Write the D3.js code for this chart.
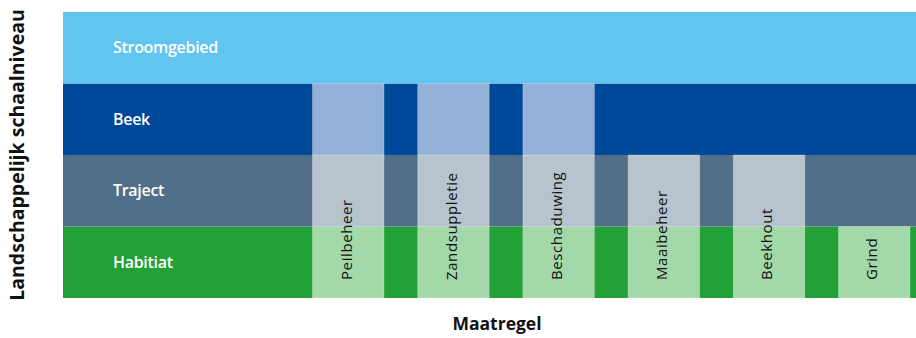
<!DOCTYPE html>
<html>
<head>
<meta charset="utf-8">
<script src="https://cdn.jsdelivr.net/npm/d3@7.9.0/dist/d3.min.js"></script>
<style>
  html, body { margin: 0; padding: 0; background: #fff; }
  svg { display: block; font-family: "Open Sans", sans-serif; }
</style>
</head>
<body>
<svg id="chart" width="916" height="338"></svg>
<script>
// levels from bottom to top
const levels = ['Habitiat', 'Traject', 'Beek', 'Stroomgebied'];
const levelColors = ['#22a137', '#516f88', '#00489a', '#62c5ef'];
const levelLight = ['#a3d8a9', '#b7c4ce', '#93b1d6', '#c8e9f8'];

// measures and the highest level each one reaches
const measures = ['Peilbeheer', 'Zandsuppletie', 'Beschaduwing', 'Maaibeheer', 'Beekhout', 'Grind'];
const measureTop = ['Beek', 'Beek', 'Beek', 'Traject', 'Traject', 'Habitiat'];

const yTitle = 'Landschappelijk schaalniveau';
const xTitle = 'Maatregel';

const margin = { top: 12, right: -15, bottom: 40, left: 63 };
const W = 916, H = 338;

const svg = d3.select('#chart');

const y = d3.scaleBand()
  .domain(levels)
  .range([H - margin.bottom, margin.top]);

const x = d3.scaleBand()
  .domain(measures)
  .range([312.5, 910])
  .paddingInner(0.3203);

const plotRight = W - margin.right;

// background bands
svg.append('g')
  .selectAll('rect')
  .data(levels)
  .join('rect')
  .attr('x', margin.left)
  .attr('y', (d) => y(d))
  .attr('width', plotRight - margin.left)
  .attr('height', y.bandwidth())
  .attr('fill', (d, i) => levelColors[i]);

// band labels
svg.append('g')
  .selectAll('text')
  .data(levels)
  .join('text')
  .attr('x', 113)
  .attr('y', (d) => y(d) + y.bandwidth() / 2)
  .attr('dy', '0.35em')
  .attr('fill', '#fff')
  .attr('font-size', 16)
  .attr('font-weight', 600)
  .attr('letter-spacing', -0.3)
  .text((d) => d);

// measure columns
let cells = [];
measures.forEach((m, i) => {
  let topIdx = levels.indexOf(measureTop[i]);
  for (let j = 0; j <= topIdx; j++) {
    cells.push({ measure: m, level: levels[j], idx: j });
  }
});

svg.append('g')
  .selectAll('rect')
  .data(cells)
  .join('rect')
  .attr('x', (d) => x(d.measure))
  .attr('y', (d) => y(d.level))
  .attr('width', x.bandwidth())
  .attr('height', y.bandwidth())
  .attr('fill', (d) => levelLight[d.idx])
  .attr('stroke', 'rgba(255,255,255,0.25)')
  .attr('stroke-width', 1);

// measure labels
svg.append('g')
  .selectAll('text')
  .data(measures)
  .join('text')
  .attr('transform', (d) => {
    let cx = x(d) + x.bandwidth() / 2 - 2;
    let cy = y('Habitiat') + y.bandwidth() - 18;
    return `translate(${cx},${cy}) rotate(-90)`;
  })
  .attr('dy', '0.35em')
  .attr('fill', '#111')
  .attr('font-size', 15)
  .attr('letter-spacing', 0.6)
  .text((d) => d);

// axis titles
svg.append('text')
  .attr('transform', `translate(24,${(margin.top + H - margin.bottom) / 2}) rotate(-90)`)
  .attr('text-anchor', 'middle')
  .attr('font-size', 19.5)
  .attr('font-weight', 700)
  .attr('fill', '#111')
  .text(yTitle);

svg.append('text')
  .attr('x', (margin.left + plotRight) / 2)
  .attr('y', 330)
  .attr('text-anchor', 'middle')
  .attr('font-size', 17.5)
  .attr('font-weight', 700)
  .attr('fill', '#111')
  .text(xTitle);
</script>
</body>
</html>
